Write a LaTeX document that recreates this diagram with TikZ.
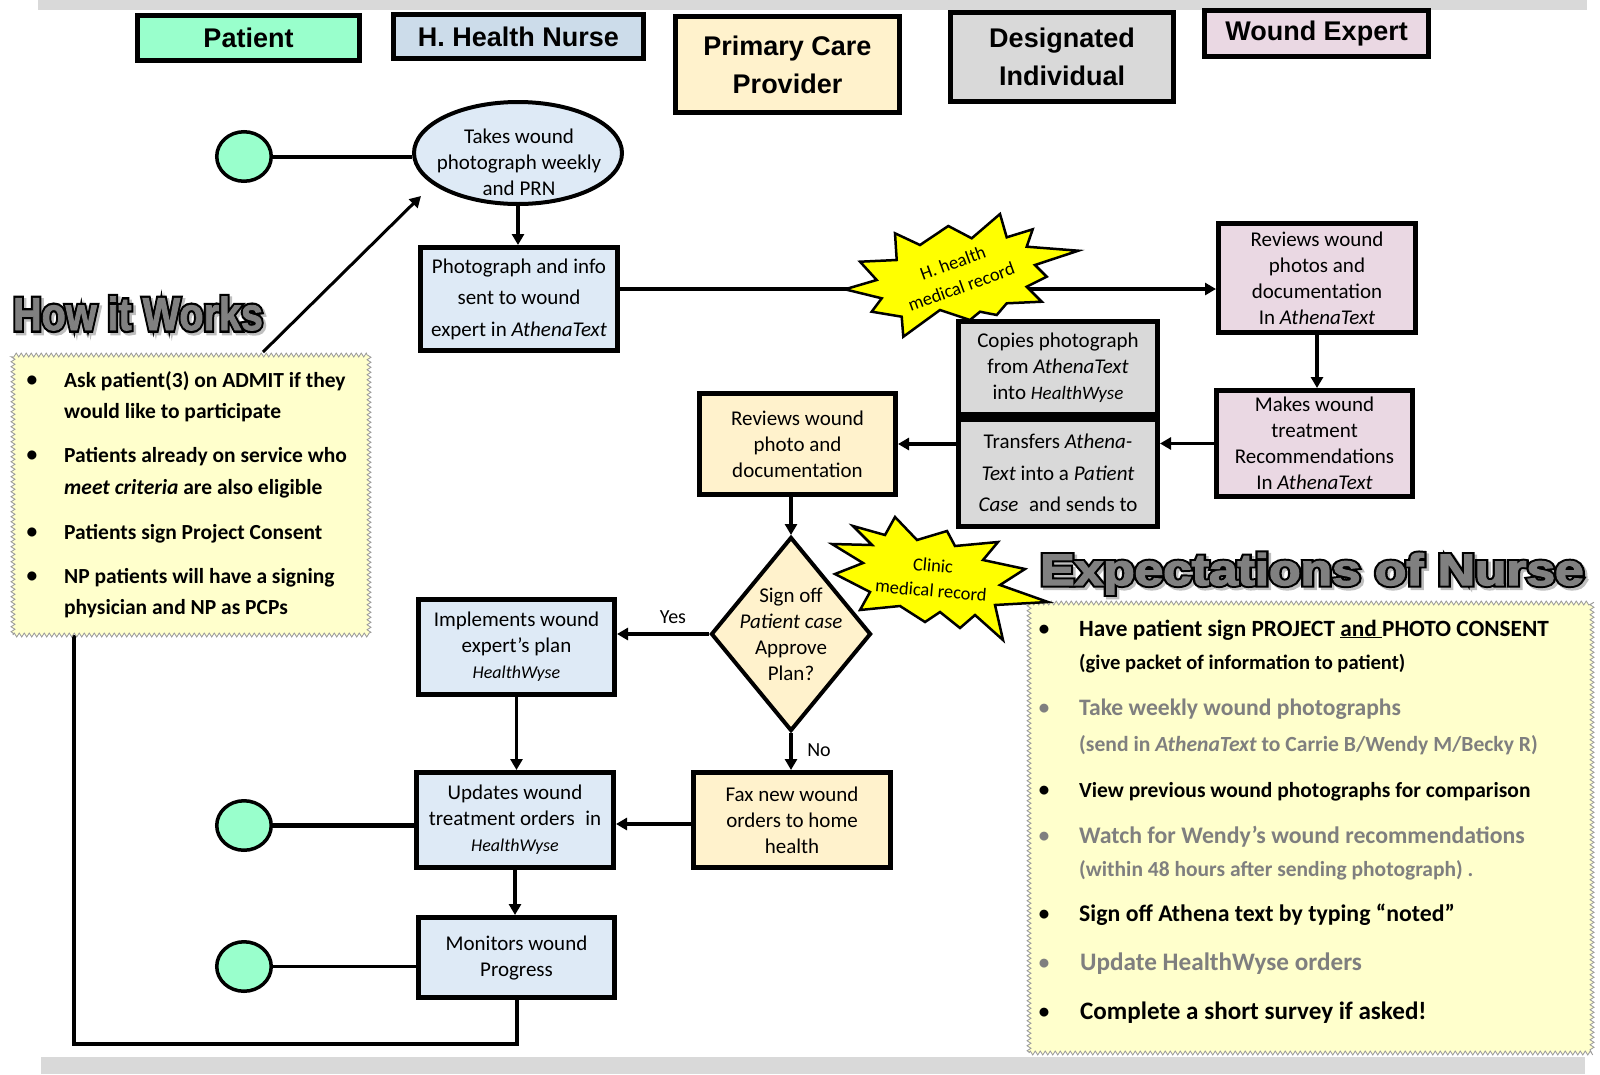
\documentclass[tikz,border=0pt]{standalone}
\usepackage{fontspec}
\usepackage{graphicx}
\setmainfont{Carlito}
\newfontfamily\hdrfont{Liberation Sans}
\newfontfamily\ttlout{Liberation Sans}[FakeBold=12]
\newfontfamily\ttlfillA{Liberation Sans}[FakeBold=2]
\newfontfamily\ttlfillB{Liberation Sans}[FakeBold=3]
\usetikzlibrary{arrows.meta,shapes.geometric,decorations.pathmorphing,calc}
\pgfdeclarelayer{back}
\pgfdeclarelayer{front}
\pgfsetlayers{back,main,front}
\definecolor{mint}{HTML}{99FFCC}
\definecolor{nursehdr}{HTML}{CCDCEA}
\definecolor{nursebox}{HTML}{DEEAF6}
\definecolor{pcp}{HTML}{FFF2CC}
\definecolor{desig}{HTML}{D9D9D9}
\definecolor{expert}{HTML}{EAD8E3}
\definecolor{note}{HTML}{FFFFCC}
\definecolor{bargray}{HTML}{D9D9D9}
\definecolor{fade}{HTML}{7F7F7F}
\definecolor{zzgray}{HTML}{9A9A9A}
\definecolor{burstyellow}{HTML}{FFFF00}
\definecolor{titlegray}{HTML}{808080}
\tikzset{
 hdr/.style={draw=black, line width=5pt, align=center, inner sep=0pt, font=\hdrfont\bfseries\fontsize{27}{38}\selectfont},
 flowbox/.style={draw=black, line width=5pt, align=center, inner sep=0pt, font=\fontsize{21}{26}\selectfont},
 widebox/.style={font=\fontsize{21}{31.5}\selectfont},
 ftext/.style={align=center, inner sep=0pt, font=\fontsize{21}{26}\selectfont},
 pat/.style={ellipse, draw=black, line width=3.5pt, fill=mint, minimum width=54.5, minimum height=49.5, inner sep=0pt},
 conn/.style={line width=3.5pt},
 arr/.style={conn, -{Triangle[length=11pt,width=12pt]}},
 zzbox/.style={draw=zzgray, line width=0.8pt, fill=note, decorate, decoration={zigzag, segment length=5pt, amplitude=2pt}},
 item/.style={anchor=base west, inner sep=0pt},
 bul/.style={anchor=base, inner sep=0pt},
 burst/.style={fill=burstyellow, draw=black, line width=2.5pt, line join=miter, miter limit=20},
 bursttext/.style={align=center, inner sep=0pt, font=\fontsize{18.5}{25}\selectfont},
 lbl/.style={inner sep=0pt, font=\fontsize{20}{24}\selectfont},
 titleA/.style={anchor=base, inner sep=0pt},
 titleB/.style={anchor=base west, inner sep=0pt},
}
\begin{document}
\begin{tikzpicture}[x=1pt,y=-1pt]
\useasboundingbox (0,0) rectangle (1600,1074);
% grey bars
\fill[bargray] (38,0) rectangle (1587,10);
\fill[bargray] (41,1057) rectangle (1585,1074);

% headers
\node[hdr, fill=mint, minimum width=222, minimum height=45] (hPat) at (248.5,38) {Patient};
\node[hdr, fill=nursehdr, minimum width=250, minimum height=44] (hNurse) at (518.5,36.5) {H. Health Nurse};
\node[hdr, fill=pcp, minimum width=224, minimum height=96] (hPCP) at (787.5,64.5) {Primary Care\\Provider};
\node[hdr, fill=desig, minimum width=223, minimum height=89] (hDes) at (1062,57) {Designated\\Individual};
\node[hdr, fill=expert, minimum width=224, minimum height=46] (hWE) at (1316.5,33.5) {Wound Expert};

% note boxes
\node[zzbox, minimum width=356, minimum height=280] (hiw) at (191,495) {};
\node[zzbox, minimum width=563, minimum height=450] (exp) at (1310.5,828) {};

% flow nodes
\node[pat] (c1) at (244,156.5) {};
\node[ellipse, draw=black, line width=4pt, fill=nursebox, minimum width=208, minimum height=102, inner sep=0pt] (ell) at (518,153) {};
\node[ftext] (ellT) at (519,162) {Takes wound\\photograph weekly\\and PRN};
\node[flowbox, widebox, fill=nursebox, minimum width=197, minimum height=103] (photo) at (519,299) {Photograph and info\\sent to wound\\expert in \textit{AthenaText}};
\node[flowbox, fill=expert, minimum width=197, minimum height=109] (revWE) at (1317,278) {Reviews wound\\photos and\\documentation\\In \textit{AthenaText}};
\node[flowbox, fill=expert, minimum width=196, minimum height=106] (makes) at (1314.5,443.5) {Makes wound\\treatment\\Recommendations\\In \textit{AthenaText}};
\node[flowbox, fill=desig, minimum width=199, minimum height=93] (copies) at (1058,368) {Copies photograph\\from \textit{AthenaText}\\into {\fontsize{19}{26}\selectfont\itshape HealthWyse}};
\node[flowbox, widebox, fill=desig, minimum width=199, minimum height=107] (transf) at (1058,473) {Transfers \textit{Athena-}\\\textit{Text} into a \textit{Patient}\\\textit{Case}\enspace and sends to};
\node[flowbox, fill=pcp, minimum width=196, minimum height=101] (pcpRev) at (797.5,444) {Reviews wound\\photo and\\documentation};
\node[diamond, draw=black, line width=4pt, fill=pcp, minimum width=160, minimum height=194, inner sep=0pt] (dia) at (791,634) {};
\node[ftext] (diaT) at (791,634) {Sign off\\\textit{Patient case}\\Approve\\Plan?};
\node[flowbox, fill=nursebox, minimum width=196, minimum height=95] (impl) at (516.5,647) {Implements wound\\expert’s plan\\{\fontsize{18}{26}\selectfont\itshape HealthWyse}};
\node[flowbox, fill=pcp, minimum width=197, minimum height=95] (fax) at (792,820) {Fax new wound\\orders to home\\health};
\node[flowbox, fill=nursebox, minimum width=197, minimum height=95] (upd) at (515,820) {Updates wound\\treatment orders\enspace in\\{\fontsize{18}{26}\selectfont\itshape HealthWyse}};
\node[flowbox, fill=nursebox, minimum width=196, minimum height=80] (mon) at (516.5,957.5) {Monitors wound\\Progress};
\node[pat] (c2) at (244,825.5) {};
\node[pat] (c3) at (244,966.5) {};

% labels
\node[lbl] (yes) at (673,617) {Yes};
\node[lbl] (no) at (819,750) {No};

% How it works list
\begin{scope}[every node/.append style={font=\bfseries\fontsize{21.5}{26}\selectfont}]
\node[bul] (hb1) at (32,386) {•};
\node[bul] (hb2) at (32,461) {•};
\node[bul] (hb3) at (32,538) {•};
\node[bul] (hb4) at (32,582) {•};
\node[item] (h1) at (64,387) {Ask patient(3) on ADMIT if they};
\node[item] (h2) at (64,418) {would like to participate};
\node[item] (h3) at (64,462) {Patients already on service who};
\node[item] (h4) at (64,494) {\textit{meet criteria} are also eligible};
\node[item] (h5) at (64,539) {Patients sign Project Consent};
\node[item] (h6) at (64,583) {NP patients will have a signing};
\node[item] (h7) at (64,614) {physician and NP as PCPs};
\end{scope}

% Expectations list
\begin{scope}[every node/.append style={font=\bfseries}]
\node[bul, font=\bfseries\fontsize{21}{26}\selectfont] (eb1) at (1044,635) {•};
\node[bul, text=fade, font=\bfseries\fontsize{21}{26}\selectfont] (eb2) at (1044,714) {•};
\node[bul, font=\bfseries\fontsize{21}{26}\selectfont] (eb3) at (1044,796) {•};
\node[bul, text=fade, font=\bfseries\fontsize{21}{26}\selectfont] (eb4) at (1044,842) {•};
\node[bul, font=\bfseries\fontsize{21}{26}\selectfont] (eb5) at (1044,920) {•};
\node[bul, text=fade, font=\bfseries\fontsize{21}{26}\selectfont] (eb6) at (1044,969) {•};
\node[bul, font=\bfseries\fontsize{21}{26}\selectfont] (eb7) at (1044,1018) {•};
\node[item, font=\bfseries\fontsize{23.3}{28}\selectfont] (e1) at (1079,636) {Have patient sign PROJECT \underline{and }PHOTO CONSENT};
\node[item, font=\bfseries\fontsize{20.6}{26}\selectfont] (e2) at (1079,669) {(give packet of information to patient)};
\node[item, text=fade, font=\bfseries\fontsize{23.6}{28}\selectfont] (e3) at (1079,715) {Take weekly wound photographs};
\node[item, text=fade, font=\bfseries\fontsize{21.6}{26}\selectfont] (e4) at (1079,751) {(send in \textit{AthenaText} to Carrie B/Wendy M/Becky R)};
\node[item, font=\bfseries\fontsize{21.5}{26}\selectfont] (e5) at (1079,797) {View previous wound photographs for comparison};
\node[item, text=fade, font=\bfseries\fontsize{23.8}{28}\selectfont] (e6) at (1079,843) {Watch for Wendy’s wound recommendations};
\node[item, text=fade, font=\bfseries\fontsize{21.5}{26}\selectfont] (e7) at (1079,876) {(within 48 hours after sending photograph) .};
\node[item, font=\bfseries\fontsize{23.8}{28}\selectfont] (e8) at (1079,921) {Sign off Athena text by typing “noted”};
\node[item, text=fade, font=\bfseries\fontsize{25.2}{30}\selectfont] (e9) at (1080,970) {Update HealthWyse orders};
\node[item, font=\bfseries\fontsize{25.1}{30}\selectfont] (e10) at (1080,1019) {Complete a short survey if asked!};
\end{scope}

% titles (outlined: stroked dark copy under a grey copy, soft shadow)
\node[titleA, text=black!25, font=\ttlout\bfseries\fontsize{46}{46}\selectfont] (hiwS) at (140.5,332.5) {\scalebox{0.86}[1]{How it Works}};
\node[titleA, text=black, font=\ttlout\bfseries\fontsize{46}{46}\selectfont] (hiwO) at (138,330) {\scalebox{0.86}[1]{How it Works}};
\node[titleA, text=titlegray, font=\ttlfillA\bfseries\fontsize{46}{46}\selectfont] (hiwTitle) at (138,330) {\scalebox{0.86}[1]{How it Works}};

\node[titleB, text=black!25, font=\ttlout\bfseries\fontsize{44}{44}\selectfont] (expS) at (1042.5,587.5) {\scalebox{1.17}[1]{Expectations of Nurse}};
\node[titleB, text=black, font=\ttlout\bfseries\fontsize{44}{44}\selectfont] (expO) at (1040,585) {\scalebox{1.17}[1]{Expectations of Nurse}};
\node[titleB, text=titlegray, font=\ttlfillB\bfseries\fontsize{44}{44}\selectfont] (expTitle) at (1040,585) {\scalebox{1.17}[1]{Expectations of Nurse}};

% connectors (behind the nodes)
\begin{pgfonlayer}{back}
\draw[conn, line width=4pt] (c1.east) -- (c1.east -| ell.west);
\draw[arr] (ell.south) -- (ell.south |- photo.north);
\draw[arr] ($(photo.east)+(0,-10)$) -- ($(photo.east -| revWE.west)+(0,-10)$);
\draw[arr] (revWE.south) -- (revWE.south |- makes.north);
\draw[arr] (makes.west) -- (makes.west -| transf.east);
\draw[arr] (transf.west |- pcpRev.east) -- (pcpRev.east);
\draw[arr] (pcpRev.south -| dia.north) -- (dia.north);
\draw[arr] (dia.west) -- (dia.west -| impl.east);
\draw[arr] (dia.south) -- (dia.south |- fax.north);
\draw[arr] ($(fax.west)+(0,4)$) -- ($(fax.west -| upd.east)+(0,4)$);
\draw[arr] (impl.south) -- (impl.south |- upd.north);
\draw[arr] (upd.south) -- (upd.south |- mon.north);
\draw[conn, line width=4.5pt] (c2.east) -- (c2.east -| upd.west);
\draw[conn] (c3.east) -- (c3.east -| mon.west);
\coordinate (loopC) at (74,1044);
\draw[conn, line width=4pt] (mon.south) |- (loopC) -- (loopC |- hiw.south);
\coordinate (hiwTop) at (263,352);
\coordinate (ellTip) at (421,196);
\draw[arr, line width=3pt] (hiwTop) -- (ellTip);
% starburst 1
\draw[burst] (1000,214) -- (1006.7,237.3) -- (1032.7,229.3) -- (1026.7,246.7) -- (1078.3,250.7) -- (1035,265) -- (1046.7,276.7) -- (1026.7,286.7) -- (1041.7,301.7) -- (1006.7,303.3) -- (996.7,315) -- (980,311.7) -- (970,320) -- (940,310) -- (903.3,336.7) -- (901.7,316.7) -- (871.7,311.7) -- (881.7,298.3) -- (845,289.3) -- (876.7,280) -- (860,261.7) -- (896.7,260) -- (895,233.3) -- (920,245) -- (948.3,226) -- (971.7,238.3) -- cycle;
\node[bursttext, rotate=20] (b1T) at (957,275) {H. health\\medical record};
\end{pgfonlayer}

% starburst 2
\begin{pgfonlayer}{front}
\draw[burst] (895,517) -- (917,540) -- (947,531) -- (955,546) -- (998,542) -- (983,560) -- (1025,569) -- (1000,585) -- (1048,602) -- (995,605) -- (1003,640) -- (975,615) -- (960,628) -- (940,612) -- (925,622) -- (900,606) -- (860,610) -- (870,592) -- (835,574) -- (863,563) -- (832,544) -- (872,545) -- (853,526) -- (885,535) -- cycle;
\node[bursttext, rotate=-5] (b2T) at (932,578) {Clinic\\medical record};
\end{pgfonlayer}
\end{tikzpicture}
\end{document}
